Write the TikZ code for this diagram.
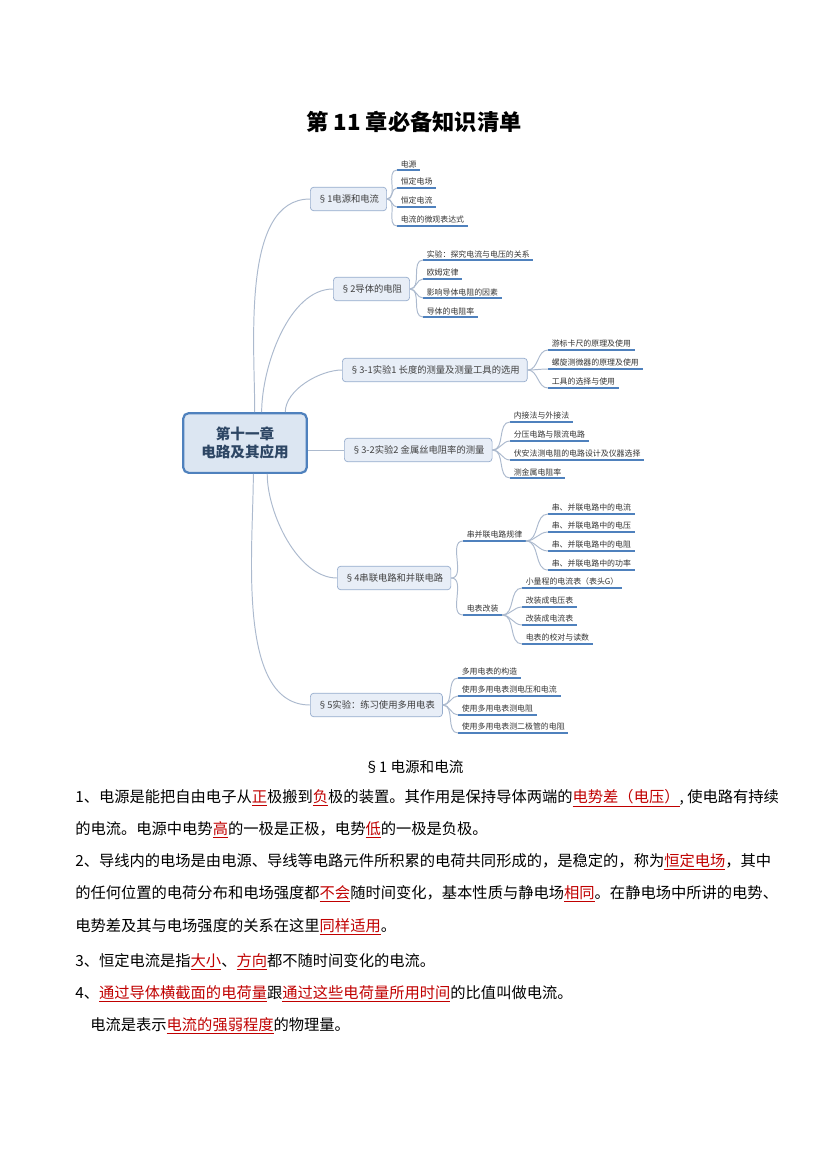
\documentclass[tikz,border=0pt]{standalone}
\usepackage{fontspec}
\setmainfont{Noto Sans CJK SC}
\definecolor{brline}{RGB}{172,186,206}
\definecolor{ulblue}{RGB}{79,129,189}
\definecolor{secfill}{RGB}{232,238,247}
\definecolor{secdraw}{RGB}{150,172,204}
\definecolor{centfill}{RGB}{220,230,242}
\definecolor{centtext}{RGB}{45,70,100}
\definecolor{keyred}{RGB}{192,0,0}
\newcommand{\redul}[1]{\textcolor{keyred}{\underline{#1}}}

\begin{document}
\begin{tikzpicture}[x=0.72pt, y=-0.72pt,   % Pixelraster der Vorlage
	cent/.style={draw=ulblue, line width=1.6pt, fill=centfill, rounded corners=4pt, minimum width=89pt, minimum height=43pt, align=center, text=centtext, font=\fontsize{10.5}{13}\selectfont\bfseries},
	sec/.style={draw=secdraw, line width=0.5pt, fill=secfill, rounded corners=2.5pt, anchor=west, minimum height=17pt, inner xsep=5.5pt, text=black!75, font=\fontsize{6.7}{7.5}\selectfont},
	leaf/.style={anchor=south west, inner xsep=2.5pt, inner ysep=1.5pt, text=black!80, font=\fontsize{5.7}{6.5}\selectfont,
		append after command={(\tikzlastnode.south west) edge[draw=ulblue, line width=1pt] (\tikzlastnode.south east)}},
	br/.style={draw=brline, line width=0.7pt},
	body/.style={anchor=west, inner sep=0pt, font=\fontsize{11}{13}\selectfont}]
	\useasboundingbox (0,0) rectangle (827,1169);

	\node[font=\fontsize{16}{18}\selectfont\bfseries] (title) at (414,122) {第 11 章必备知识清单};

	% Mindmap
	\node[cent] (c) at (245,443) {第十一章\\电路及其应用};
	\node[sec] (s1) at (310,199) {§1电源和电流};
	\node[sec] (s2) at (333,289) {§2导体的电阻};
	\node[sec] (s31) at (342,370) {§3-1实验1 长度的测量及测量工具的选用};
	\node[sec] (s32) at (344,450) {§3-2实验2 金属丝电阻率的测量};
	\node[sec] (s4) at (337,578) {§4串联电路和并联电路};
	\node[sec] (s5) at (310,705) {§5实验：练习使用多用电表};

	\draw[br] ([xshift=7pt]c.north) to[out=90,in=180,looseness=0.8] (s1.west);
	\draw[br] ([xshift=12pt]c.north) to[out=90,in=180,looseness=0.8] (s2.west);
	\draw[br] ([xshift=29pt]c.north) to[out=90,in=180,looseness=0.8] (s31.west);
	\draw[br] (c.east |- s32.west) -- (s32.west);
	\draw[br] ([xshift=16pt]c.south) to[out=-90,in=180,looseness=0.8] (s4.west);
	\draw[br] ([xshift=6pt]c.south) to[out=-90,in=180,looseness=0.8] (s5.west);

	\node[leaf] (l1a) at (397,170) {电源};
	\node[leaf] (l1b) at (397,188) {恒定电场};
	\node[leaf] (l1c) at (397,207) {恒定电流};
	\node[leaf] (l1d) at (397,226) {电流的微观表达式};
	\draw[br] (s1.east) to[out=0,in=180] (l1a.south west);
	\draw[br] (s1.east) to[out=0,in=180] (l1b.south west);
	\draw[br] (s1.east) to[out=0,in=180] (l1c.south west);
	\draw[br] (s1.east) to[out=0,in=180] (l1d.south west);

	\node[leaf] (l2a) at (423,260) {实验：探究电流与电压的关系};
	\node[leaf] (l2b) at (423,279) {欧姆定律};
	\node[leaf] (l2c) at (423,298) {影响导体电阻的因素};
	\node[leaf] (l2d) at (423,317) {导体的电阻率};
	\draw[br] (s2.east) to[out=0,in=180] (l2a.south west);
	\draw[br] (s2.east) to[out=0,in=180] (l2b.south west);
	\draw[br] (s2.east) to[out=0,in=180] (l2c.south west);
	\draw[br] (s2.east) to[out=0,in=180] (l2d.south west);

	\node[leaf] (l31a) at (548,350) {游标卡尺的原理及使用};
	\node[leaf] (l31b) at (548,369) {螺旋测微器的原理及使用};
	\node[leaf] (l31c) at (548,388) {工具的选择与使用};
	\draw[br] (s31.east) to[out=0,in=180] (l31a.south west);
	\draw[br] (s31.east) to[out=0,in=180] (l31b.south west);
	\draw[br] (s31.east) to[out=0,in=180] (l31c.south west);

	\node[leaf] (l32a) at (510,422) {内接法与外接法};
	\node[leaf] (l32b) at (510,441) {分压电路与限流电路};
	\node[leaf] (l32c) at (510,460) {伏安法测电阻的电路设计及仪器选择};
	\node[leaf] (l32d) at (510,478) {测金属电阻率};
	\draw[br] (s32.east) to[out=0,in=180] (l32a.south west);
	\draw[br] (s32.east) to[out=0,in=180] (l32b.south west);
	\draw[br] (s32.east) to[out=0,in=180] (l32c.south west);
	\draw[br] (s32.east) to[out=0,in=180] (l32d.south west);

	\node[leaf] (g4a) at (463,541) {串并联电路规律};
	\node[leaf] (g4b) at (463,615) {电表改装};
	\draw[br] (s4.east) to[out=0,in=180] (g4a.south west);
	\draw[br] (s4.east) to[out=0,in=180] (g4b.south west);
	\node[leaf] (l4a) at (548,514) {串、并联电路中的电流};
	\node[leaf] (l4b) at (548,532) {串、并联电路中的电压};
	\node[leaf] (l4c) at (548,551) {串、并联电路中的电阻};
	\node[leaf] (l4d) at (548,570) {串、并联电路中的功率};
	\draw[br] (g4a.south east) to[out=0,in=180] (l4a.south west);
	\draw[br] (g4a.south east) to[out=0,in=180] (l4b.south west);
	\draw[br] (g4a.south east) to[out=0,in=180] (l4c.south west);
	\draw[br] (g4a.south east) to[out=0,in=180] (l4d.south west);
	\node[leaf] (l4e) at (522,588) {小量程的电流表（表头G）};
	\node[leaf] (l4f) at (522,607) {改装成电压表};
	\node[leaf] (l4g) at (522,625) {改装成电流表};
	\node[leaf] (l4h) at (522,644) {电表的校对与读数};
	\draw[br] (g4b.south east) to[out=0,in=180] (l4e.south west);
	\draw[br] (g4b.south east) to[out=0,in=180] (l4f.south west);
	\draw[br] (g4b.south east) to[out=0,in=180] (l4g.south west);
	\draw[br] (g4b.south east) to[out=0,in=180] (l4h.south west);

	\node[leaf] (l5a) at (458,678) {多用电表的构造};
	\node[leaf] (l5b) at (458,696) {使用多用电表测电压和电流};
	\node[leaf] (l5c) at (458,715) {使用多用电表测电阻};
	\node[leaf] (l5d) at (458,733) {使用多用电表测二极管的电阻};
	\draw[br] (s5.east) to[out=0,in=180] (l5a.south west);
	\draw[br] (s5.east) to[out=0,in=180] (l5b.south west);
	\draw[br] (s5.east) to[out=0,in=180] (l5c.south west);
	\draw[br] (s5.east) to[out=0,in=180] (l5d.south west);

	% Text
	\node[font=\fontsize{10.5}{13}\selectfont] (h1) at (414,767) {§1 电源和电流};
	\node[body] (p1) at (75,798) {1、电源是能把自由电子从\redul{正}极搬到\redul{负}极的装置。其作用是保持导体两端的\redul{电势差（电压）}, 使电路有持续};
	\node[body] (p2) at (75,830) {的电流。电源中电势\redul{高}的一极是正极，电势\redul{低}的一极是负极。};
	\node[body] (p3) at (75,862) {2、导线内的电场是由电源、导线等电路元件所积累的电荷共同形成的，是稳定的，称为\redul{恒定电场}，其中};
	\node[body] (p4) at (75,894) {的任何位置的电荷分布和电场强度都\redul{不会}随时间变化，基本性质与静电场\redul{相同}。在静电场中所讲的电势、};
	\node[body] (p5) at (75,927) {电势差及其与电场强度的关系在这里\redul{同样适用}。};
	\node[body] (p6) at (75,962) {3、恒定电流是指\redul{大小}、\redul{方向}都不随时间变化的电流。};
	\node[body] (p7) at (75,994) {4、\redul{通过导体横截面的电荷量}跟\redul{通过这些电荷量所用时间}的比值叫做电流。};
	\node[body] (p8) at (90,1026) {电流是表示\redul{电流的强弱程度}的物理量。};
\end{tikzpicture}
\end{document}
